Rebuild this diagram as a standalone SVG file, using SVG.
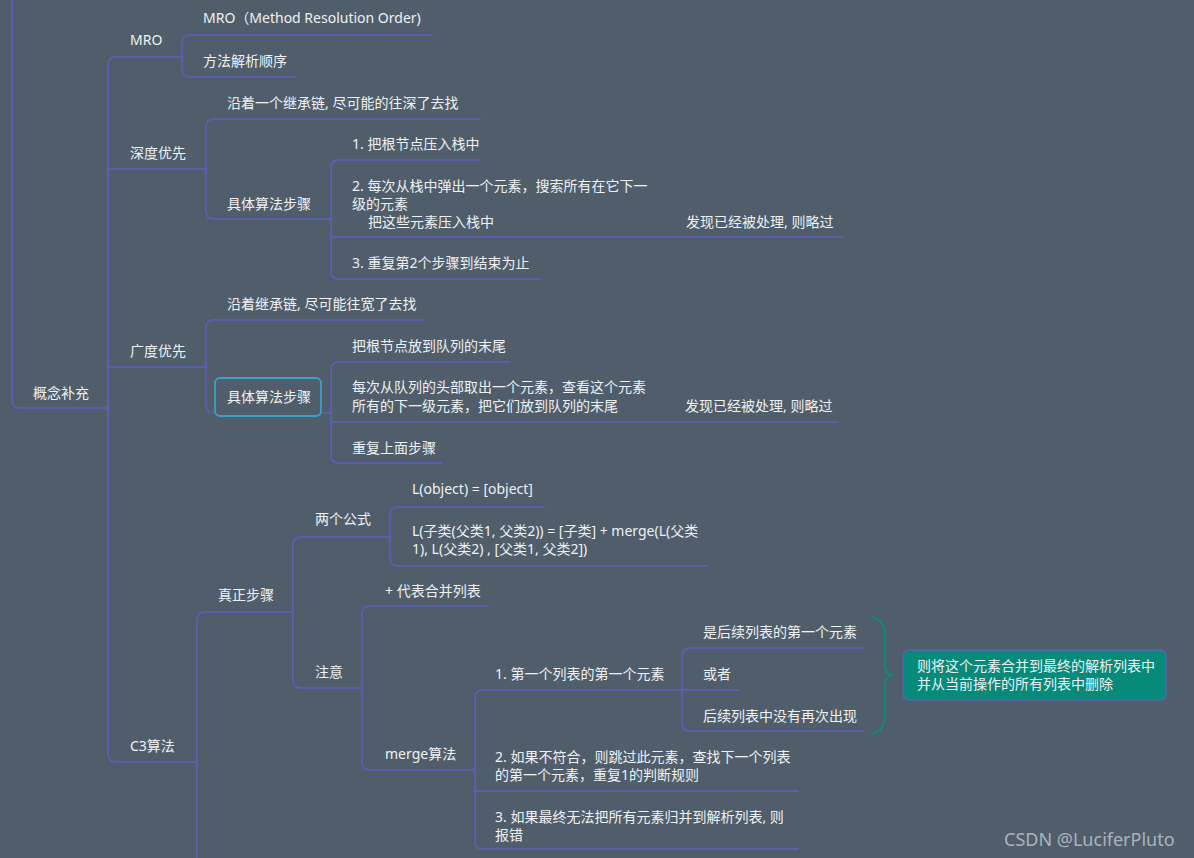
<svg xmlns="http://www.w3.org/2000/svg" width="1194" height="858" viewBox="0 0 1194 858">
<style>
.bg{fill:#505e6b}
.c{fill:none;stroke:#5a5fab;stroke-width:2;stroke-linecap:round}
text{font-family:"Noto Sans","Noto Sans CJK SC",sans-serif;font-size:14px;fill:#eef1f3}
.wm{font-size:18px;fill:#c9ced3;opacity:0.75}
</style>
<rect class="bg" x="0" y="0" width="1194" height="858"/>
<g id="connectors">
<path class="c" d="M12 0 V400 Q12 408 20 408 H108"/>
<path class="c" d="M183 57 H116 Q108 57 108 65 V754 Q108 762 116 762 H197"/>
<path class="c" d="M432 35 H190 Q182 35 182 43 V69 Q182 77 190 77 H295"/>
<path class="c" d="M108 169 H206"/>
<path class="c" d="M480 119 H214 Q206 119 206 127 V211 Q206 219 214 219 H331"/>
<path class="c" d="M480 160 H339 Q331 160 331 168 V271 Q331 279 339 279 H540"/>
<path class="c" d="M331 237 H843"/>
<path class="c" d="M108 367 H206"/>
<path class="c" d="M424 320 H214 Q206 320 206 328 V405 Q206 413 214 413 H331"/>
<path class="c" d="M510 362 H339 Q331 362 331 370 V455 Q331 463 339 463 H442"/>
<path class="c" d="M331 422 H838"/>
<path class="c" d="M293 612 H205 Q197 612 197 620 V858"/>
<path class="c" d="M390 537 H301 Q293 537 293 545 V680 Q293 688 301 688 H362"/>
<path class="c" d="M544 507 H398 Q390 507 390 515 V558 Q390 566 398 566 H708"/>
<path class="c" d="M488 606 H370 Q362 606 362 614 V762 Q362 770 370 770 H475"/>
<path class="c" d="M738 690 H483 Q475 690 475 698 V841 Q475 849 483 849 H798"/>
<path class="c" d="M475 791 H798"/>
<path class="c" d="M864 648 H690 Q682 648 682 656 V723 Q682 731 690 731 H864"/>
<path d="M872 617 Q886 620 885 640 L885 664 Q885 675 893 675 Q885 675 885 686 L885 712 Q886 731 872 734" fill="none" stroke="#13897a" stroke-width="2"/>
</g>
<g id="n-root"><text x="33" y="398">概念补充</text></g>
<g id="n-mro"><text x="130" y="45">MRO</text></g>
<g id="n-mro-1"><text x="203" y="23">MRO（Method Resolution Order)</text></g>
<g id="n-mro-2"><text x="203" y="66">方法解析顺序</text></g>
<g id="n-dfs"><text x="130" y="158">深度优先</text></g>
<g id="n-dfs-1"><text x="227" y="108">沿着一个继承链, 尽可能的往深了去找</text></g>
<g id="n-dfs-2"><text x="227" y="209">具体算法步骤</text></g>
<g id="n-dfs-s1"><text x="352" y="149">1. 把根节点压入栈中</text></g>
<g id="n-dfs-s2"><text x="352" y="191">2. 每次从栈中弹出一个元素，搜索所有在它下一</text><text x="352" y="209">级的元素</text><text x="368" y="227">把这些元素压入栈中</text></g>
<g id="n-dfs-s2b"><text x="686" y="227">发现已经被处理, 则略过</text></g>
<g id="n-dfs-s3"><text x="352" y="268">3. 重复第2个步骤到结束为止</text></g>
<g id="n-bfs"><text x="130" y="356">广度优先</text></g>
<g id="n-bfs-1"><text x="227" y="309">沿着继承链, 尽可能往宽了去找</text></g>
<g id="n-bfs-2"><rect x="215" y="378" width="106" height="38" rx="5" fill="#505e6b" stroke="#3f9fc2" stroke-width="1.8"/><text x="227" y="402">具体算法步骤</text></g>
<g id="n-bfs-s1"><text x="352" y="351">把根节点放到队列的末尾</text></g>
<g id="n-bfs-s2"><text x="352" y="392">每次从队列的头部取出一个元素，查看这个元素</text><text x="352" y="411">所有的下一级元素，把它们放到队列的末尾</text></g>
<g id="n-bfs-s2b"><text x="685" y="411">发现已经被处理, 则略过</text></g>
<g id="n-bfs-s3"><text x="352" y="453">重复上面步骤</text></g>
<g id="n-c3"><text x="130" y="751">C3算法</text></g>
<g id="n-real"><text x="218" y="600">真正步骤</text></g>
<g id="n-formula"><text x="315" y="524">两个公式</text></g>
<g id="n-f1"><text x="412" y="494">L(object) = [object]</text></g>
<g id="n-f2"><text x="412" y="536">L(子类(父类1, 父类2)) = [子类] + merge(L(父类</text><text x="412" y="554">1), L(父类2) , [父类1, 父类2])</text></g>
<g id="n-note"><text x="315" y="677">注意</text></g>
<g id="n-plus"><text x="385" y="596">+ 代表合并列表</text></g>
<g id="n-merge"><text x="385" y="759">merge算法</text></g>
<g id="n-m1"><text x="495" y="679">1. 第一个列表的第一个元素</text></g>
<g id="n-m1a"><text x="703" y="637">是后续列表的第一个元素</text></g>
<g id="n-m1b"><text x="703" y="679">或者</text></g>
<g id="n-m1c"><text x="703" y="721">后续列表中没有再次出现</text></g>
<g id="n-summary"><rect x="903" y="650" width="263" height="50" rx="6" fill="#088a7a" stroke="#5a63b0" stroke-width="1.5"/><text x="917" y="671">则将这个元素合并到最终的解析列表中</text><text x="917" y="689">并从当前操作的所有列表中删除</text></g>
<g id="n-m2"><text x="495" y="762">2. 如果不符合，则跳过此元素，查找下一个列表</text><text x="495" y="780">的第一个元素，重复1的判断规则</text></g>
<g id="n-m3"><text x="495" y="822">3. 如果最终无法把所有元素归并到解析列表, 则</text><text x="495" y="840">报错</text></g>
<text class="wm" x="1004" y="846">CSDN @LuciferPluto</text>
</svg>
